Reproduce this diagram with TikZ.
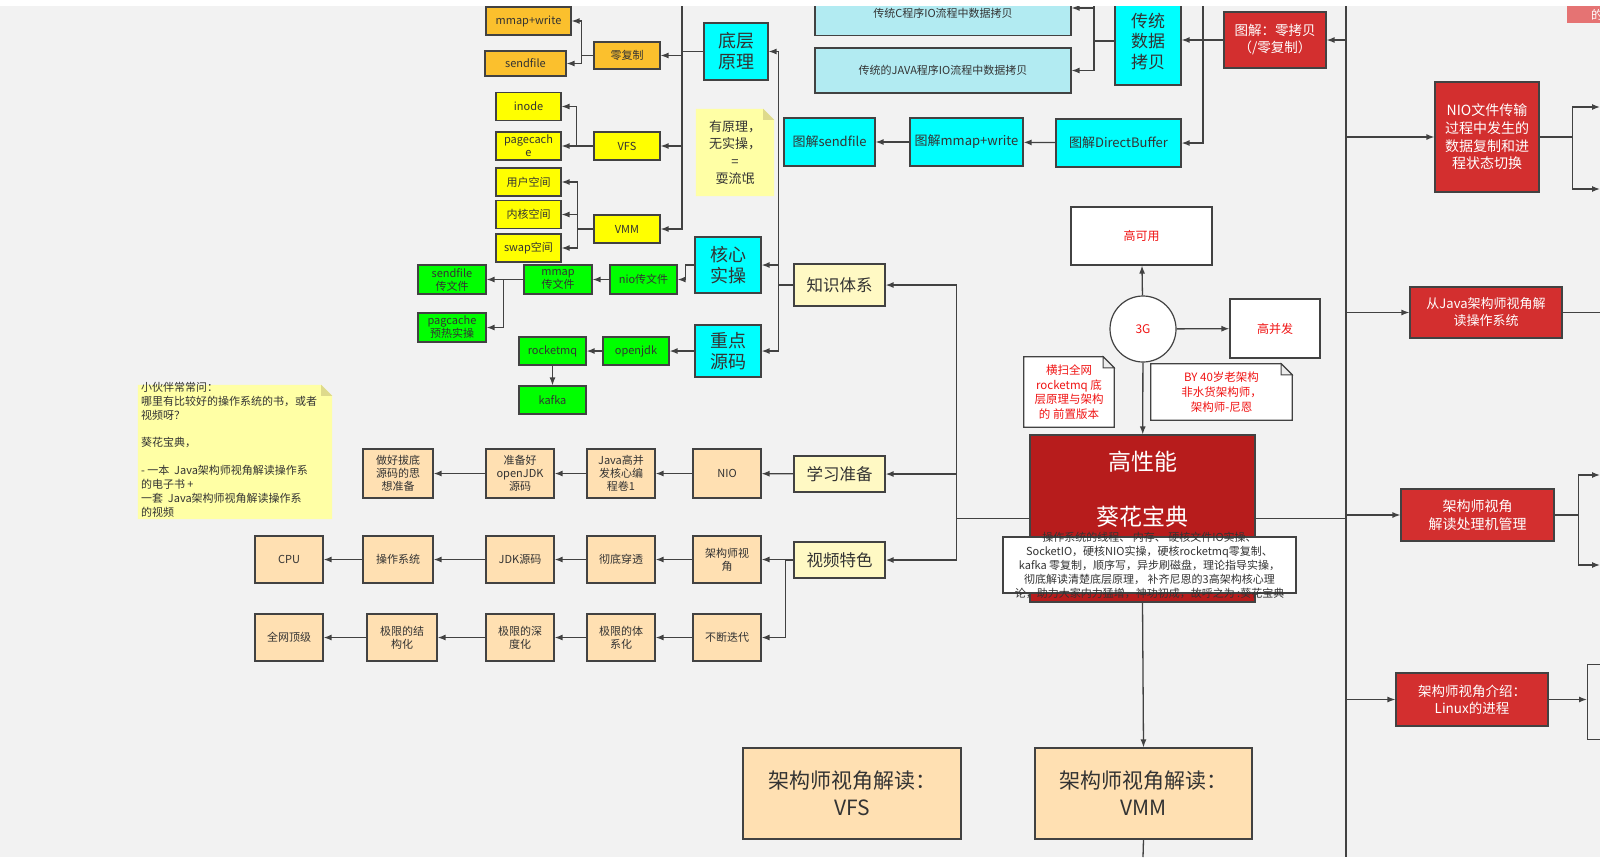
\documentclass[tikz,border=0pt]{standalone}
\usepackage{fontspec}
\setmainfont{Noto Sans CJK SC}
\usetikzlibrary{arrows.meta}
\pgfdeclarelayer{fondo}
\pgfdeclarelayer{notas}
\pgfsetlayers{fondo,notas,main}
\definecolor{fondoC}{RGB}{242,242,242}
\definecolor{lineaC}{RGB}{66,66,66}
\definecolor{textoC}{RGB}{51,51,51}
\definecolor{naranjaC}{RGB}{251,192,45}
\definecolor{amarilloC}{RGB}{255,255,0}
\definecolor{cianC}{RGB}{0,255,255}
\definecolor{cianclaroC}{RGB}{178,235,242}
\definecolor{verdeC}{RGB}{0,255,0}
\definecolor{melocotonC}{RGB}{255,224,178}
\definecolor{cremaC}{RGB}{255,249,196}
\definecolor{notaC}{RGB}{255,255,165}
\definecolor{pliegueC}{RGB}{222,218,140}
\definecolor{rojoC}{RGB}{211,47,47}
\definecolor{rojooscC}{RGB}{183,28,28}
\definecolor{rosaC}{RGB}{229,115,115}
\definecolor{rojotxtC}{RGB}{240,20,20}

\begin{document}
\begin{tikzpicture}[
        x=1pt, y=-1pt,
        every node/.style={inner sep=1pt, align=center, text=textoC},
        caja/.style={draw=lineaC, line width=1.2pt, font=\fontsize{11}{13}\selectfont},
        naranja/.style={caja, fill=naranjaC},
        amarillo/.style={caja, fill=amarilloC, minimum width=65pt, minimum height=28pt},
        cian/.style={caja, fill=cianC, font=\fontsize{18}{21}\selectfont},
        verde/.style={caja, fill=verdeC, minimum width=67pt, minimum height=29pt},
        melocoton/.style={caja, fill=melocotonC, minimum width=68pt, minimum height=47pt},
        crema/.style={caja, fill=cremaC, minimum width=91pt, minimum height=36pt, font=\fontsize{16.5}{19}\selectfont},
        rojo/.style={caja, fill=rojoC, text=white, font=\fontsize{14}{17.7}\selectfont},
        blanco/.style={caja, fill=white, text=rojotxtC, font=\fontsize{12}{14}\selectfont},
        grande/.style={caja, fill=melocotonC, minimum width=218pt, minimum height=91pt, font=\fontsize{21}{27}\selectfont},
        flecha/.style={draw=lineaC, line width=1.3pt, -{Latex[length=8pt,width=6pt]}},
        linea/.style={draw=lineaC, line width=1.3pt}
    ]
    \useasboundingbox (0,0) rectangle (1600,857);
    \clip (0,0) rectangle (1600,857);
    \begin{pgfonlayer}{fondo}
        \fill[fondoC] (0,0) rectangle (1600,857);
    \end{pgfonlayer}

    % Nodos:底层原理
    \node[naranja, minimum width=85pt, minimum height=28pt] (mw) at (528.5,21) {mmap+write};
    \node[naranja, minimum width=81pt, minimum height=25pt] (sf) at (525.5,63.5) {sendfile};
    \node[naranja, minimum width=66pt, minimum height=27pt] (lz) at (627,55.5) {零复制};
    \node[cian, minimum width=64pt, minimum height=57pt] (dc) at (736,51.5) {底层\\原理};
    \node[amarillo] (ino) at (528.5,106.5) {inode};
    \node[amarillo] (pgc) at (528.5,146) {pagecach\\e};
    \node[amarillo, minimum width=66pt] (vfs) at (627,146) {VFS};
    \node[amarillo] (yh) at (528.5,182) {用户空间};
    \node[amarillo] (nh) at (528.5,214.5) {内核空间};
    \node[amarillo] (sw) at (528.5,248) {swap空间};
    \node[amarillo, minimum width=66pt] (vmm) at (627,229) {VMM};
    \node[minimum width=78pt, minimum height=87pt, font=\fontsize{13}{17.5}\selectfont] (n1) at (735,152.5) {有原理，\\无实操，\\=\\耍流氓};

    % Nodos: 核心实操 / 重点源码
    \node[cian, minimum width=66pt, minimum height=56pt] (hx) at (728,265) {核心\\实操};
    \node[cian, minimum width=66pt, minimum height=52pt] (zd) at (728,351) {重点\\源码};
    \node[verde] (ncw) at (643.5,279.5) {nio传文件};
    \node[verde, minimum width=68pt] (mcw) at (558,279.5) {mmap\\传文件};
    \node[verde, minimum width=68pt] (scw) at (452,279.5) {sendfile\\传文件};
    \node[verde, minimum width=68pt] (pyr) at (452,327.5) {pagcache\\预热实操};
    \node[verde, minimum width=66pt, minimum height=28pt] (ojk) at (636,351) {openjdk};
    \node[verde, minimum height=28pt] (rmq) at (552.5,351) {rocketmq};
    \node[verde, minimum height=28pt] (kfk) at (552.5,400) {kafka};

    % Nodos: 知识体系 / 学习准备 / 视频特色
    \node[crema, minimum height=42pt] (zt) at (839.5,285) {知识体系};
    \node[crema] (xx) at (839.5,474) {学习准备};
    \node[crema] (sp) at (839.5,560) {视频特色};

    \node[melocoton, minimum height=49pt] (nio) at (727,473.5) {NIO};
    \node[melocoton, minimum height=49pt] (jg) at (621,473.5) {Java高并\\发核心编\\程卷1};
    \node[melocoton, minimum height=49pt] (zb) at (520,473.5) {准备好\\openJDK\\源码};
    \node[melocoton, minimum height=49pt, minimum width=70pt] (zh) at (398,473.5) {做好拔底\\源码的思\\想准备};

    \node[melocoton] (jsj) at (727,559.5) {架构师视\\角};
    \node[melocoton] (cd) at (621,559.5) {彻底穿透};
    \node[melocoton] (jdk) at (520,559.5) {JDK源码};
    \node[melocoton, minimum width=70pt] (cz) at (398,559.5) {操作系统};
    \node[melocoton] (cpu) at (289,559.5) {CPU};

    \node[melocoton] (bd) at (727,637.5) {不断迭代};
    \node[melocoton] (jt) at (621,637.5) {极限的体\\系化};
    \node[melocoton] (js) at (520,637.5) {极限的深\\度化};
    \node[melocoton, minimum width=70pt] (jj) at (402,637.5) {极限的结\\构化};
    \node[melocoton] (qw) at (289,637.5) {全网顶级};

    \node[minimum width=194pt, minimum height=134pt] (n2) at (235,452) {};
    \node[anchor=north west, inner sep=0pt, align=left, font=\fontsize{11}{13.9}\selectfont]
        (n2t) at ([xshift=3pt,yshift=3pt]n2.north west)
        {小伙伴常常问：\\哪里有比较好的操作系统的书，或者\\视频呀？\\[13.9pt]葵花宝典，\\[13.9pt]- 一本 \ Java架构师视角解读操作系\\的电子书 +\\一套 \ Java架构师视角解读操作系\\的视频};

    % Nodos: 数据拷贝
    \node[caja, fill=cianclaroC, minimum width=256pt, minimum height=45pt] (ctc) at (943,13) {传统C程序IO流程中数据拷贝};
    \node[caja, fill=cianclaroC, minimum width=256pt, minimum height=45pt] (cjv) at (943,70.5) {传统的JAVA程序IO流程中数据拷贝};
    \node[cian, minimum width=66pt, minimum height=88pt, font=\fontsize{17}{20.5}\selectfont] (ctsj) at (1148,41) {传统\\数据\\拷贝};
    \node[rojo, minimum width=102pt, minimum height=56pt, font=\fontsize{13.5}{17}\selectfont] (tjl) at (1275,40) {图解：零拷贝\\（/零复制）};
    \node[cian, minimum width=125pt, minimum height=48pt, font=\fontsize{13}{15}\selectfont] (tdb) at (1118.5,143) {图解DirectBuffer};
    \node[cian, minimum width=113pt, minimum height=48pt, font=\fontsize{13}{15}\selectfont] (tmw) at (966.5,142) {图解mmap+write};
    \node[cian, minimum width=91pt, minimum height=48pt, font=\fontsize{13}{15}\selectfont] (tsf) at (829.5,142) {图解sendfile};

    % Nodos: 3G / 高性能
    \node[blanco, minimum width=141pt, minimum height=58pt] (gky) at (1141.5,236) {高可用};
    \node[blanco, circle, minimum size=66pt] (g3) at (1143,329) {3G};
    \node[blanco, minimum width=90pt, minimum height=59pt] (gbf) at (1275,328.5) {高并发};
    \node[minimum width=90pt, minimum height=70pt, text=rojotxtC, font=\fontsize{11.5}{14.8}\selectfont] (n3) at (1069,392) {横扫全网\\rocketmq 底\\层原理与架构\\的 前置版本};
    \node[minimum width=141pt, minimum height=56pt, text=rojotxtC, font=\fontsize{11.5}{14.8}\selectfont] (n4) at (1221.5,392) {BY 40岁老架构\\非水货架构师，\\架构师-尼恩};

    \node[caja, fill=rojooscC, minimum width=225pt, minimum height=167pt] (gx) at (1142.5,518.5) {};
    \node[text=white, font=\fontsize{23}{27}\selectfont] (gxa) at (1142.5,462) {高性能};
    \node[text=white, font=\fontsize{23}{27}\selectfont] (gxb) at (1142.5,517) {葵花宝典};
    \node[caja, fill=white, minimum width=293pt, minimum height=56pt] (ds) at (1149.5,565) {};
    \node[font=\fontsize{11}{14}\selectfont] (dst) at (ds.center)
        {操作系统的线程、 内存、 硬核文件IO实操、\\SocketIO，硬核NIO实操，硬核rocketmq零复制、\\kafka 零复制，顺序写，异步刷磁盘，理论指导实操，\\彻底解读清楚底层原理， 补齐尼恩的3高架构核心理\\论，助力大家内力猛增，神功初成，故呼之为 :葵花宝典};

    \node[grande] (vfb) at (852,793.5) {架构师视角解读：\\VFS};
    \node[grande, minimum width=217pt] (vmb) at (1143.5,793.5) {架构师视角解读：\\VMM};

    % Nodos: derecha
    \node[rojo, minimum width=104pt, minimum height=110pt] (nft) at (1487,137) {NIO文件传输\\过程中发生的\\数据复制和进\\程状态切换};
    \node[rojo, minimum width=152pt, minimum height=51pt, font=\fontsize{13}{17}\selectfont] (cjs) at (1486,312.5) {从Java架构师视角解\\读操作系统};
    \node[rojo, minimum width=153pt, minimum height=52pt] (clj) at (1477.5,515) {架构师视角\\解读处理机管理};
    \node[rojo, minimum width=152pt, minimum height=53pt, font=\fontsize{13.5}{17}\selectfont] (lnx) at (1472,699.5) {架构师视角介绍：\\Linux的进程};
    \node[caja, fill=fondoC, minimum width=60pt, minimum height=75pt, anchor=west] (lxb) at (1587,702) {};
    \node[fill=rosaC, anchor=north west, inner sep=0pt, minimum height=17pt, text=white, font=\fontsize{12}{14}\selectfont] (rs) at (1567,6) {\hspace{24pt}的\hspace{40pt}};

    \coordinate (c1) at (1600,107);
    \coordinate (c2) at (1600,189);
    \coordinate (c3) at (1600,312.5);
    \coordinate (c4) at (1600,475);
    \coordinate (c5) at (1600,565);

    % Notas
    \begin{pgfonlayer}{notas}
        \fill[notaC] (n1.north west) -- ([xshift=-11pt]n1.north east) -- ([yshift=-11pt]n1.north east) -- (n1.south east) -- (n1.south west) -- cycle;
        \fill[pliegueC] ([xshift=-11pt]n1.north east) -- ([xshift=-11pt,yshift=-11pt]n1.north east) -- ([yshift=-11pt]n1.north east) -- cycle;
        \fill[notaC] (n2.north west) -- ([xshift=-11pt]n2.north east) -- ([yshift=-11pt]n2.north east) -- (n2.south east) -- (n2.south west) -- cycle;
        \fill[pliegueC] ([xshift=-11pt]n2.north east) -- ([xshift=-11pt,yshift=-11pt]n2.north east) -- ([yshift=-11pt]n2.north east) -- cycle;
        \filldraw[fill=white, draw=lineaC, line width=1.2pt] (n3.north west) -- ([xshift=-11pt]n3.north east) -- ([yshift=-11pt]n3.north east) -- (n3.south east) -- (n3.south west) -- cycle;
        \filldraw[fill=gray!15, draw=lineaC, line width=1pt] ([xshift=-11pt]n3.north east) -- ([xshift=-11pt,yshift=-11pt]n3.north east) -- ([yshift=-11pt]n3.north east) -- cycle;
        \filldraw[fill=white, draw=lineaC, line width=1.2pt] (n4.north west) -- ([xshift=-11pt]n4.north east) -- ([yshift=-11pt]n4.north east) -- (n4.south east) -- (n4.south west) -- cycle;
        \filldraw[fill=gray!15, draw=lineaC, line width=1pt] ([xshift=-11pt]n4.north east) -- ([xshift=-11pt,yshift=-11pt]n4.north east) -- ([yshift=-11pt]n4.north east) -- cycle;
    \end{pgfonlayer}

    % Aristas: 底层原理
    \coordinate (t0) at (682,0);
    \draw[linea] (dc.west) -- (dc.west -| t0);
    \draw[flecha] (t0) |- (lz.east);
    \draw[flecha] (t0) |- (vfs.east);
    \draw[flecha] (t0) |- (vmm.east);
    \draw[linea] (lz.west) -- ++(-12,0) coordinate (j1);
    \draw[flecha] (j1) |- (mw.east);
    \draw[flecha] (j1) |- (sf.east);
    \draw[linea] (vfs.west) -- ++(-17,0) coordinate (j2);
    \draw[flecha] (j2) |- (ino.east);
    \draw[flecha] (j2) |- (pgc.east);
    \draw[linea] (vmm.west) -- ++(-16,0) coordinate (j3);
    \draw[flecha] (j3) |- (yh.east);
    \draw[flecha] (j3) |- (nh.east);
    \draw[flecha] (j3) |- (sw.east);

    % Aristas: 知识体系
    \draw[linea] (zt.west) -- ++(-15,0) coordinate (j4);
    \draw[flecha] (j4) |- (dc.east);
    \draw[flecha] (j4) |- (hx.east);
    \draw[flecha] (j4) |- (zd.east);
    \draw[flecha] (hx.west) -- ++(-9,0) |- (ncw.east);
    \draw[flecha] (ncw) -- (mcw);
    \draw[linea] (mcw.west) -- ++(-20,0) coordinate (j5);
    \draw[flecha] (j5) |- (scw.east);
    \draw[flecha] (j5) |- (pyr.east);
    \draw[flecha] (zd) -- (ojk);
    \draw[flecha] (ojk) -- (rmq);
    \draw[flecha] (rmq) -- (kfk);

    % Aristas: 学习准备 / 视频特色
    \draw[flecha] (xx) -- (nio);
    \draw[flecha] (nio) -- (jg);
    \draw[flecha] (jg) -- (zb);
    \draw[flecha] (zb) -- (zh);
    \draw[linea] (sp.west) -- ++(-8,0) coordinate (j6);
    \draw[flecha] (j6) |- (jsj.east);
    \draw[flecha] (j6) |- (bd.east);
    \draw[flecha] (jsj) -- (cd);
    \draw[flecha] (cd) -- (jdk);
    \draw[flecha] (jdk) -- (cz);
    \draw[flecha] (cz) -- (cpu);
    \draw[flecha] (bd) -- (jt);
    \draw[flecha] (jt) -- (js);
    \draw[flecha] (js) -- (jj);
    \draw[flecha] (jj) -- (qw);

    % Aristas: 高性能
    \draw[linea] (gx.west) -- ++(-73,0) coordinate (j7);
    \draw[flecha] (j7) |- (zt.east);
    \draw[flecha] (j7) |- (xx.east);
    \draw[flecha] (j7) |- (sp.east);
    \draw[flecha] (g3) -- (gky);
    \draw[flecha] (g3) -- (gbf);
    \draw[flecha] (g3) -- (gx);
    \draw[flecha] (gx.south) -- (vmb.north);
    \coordinate (cb) at (1143,857);
    \draw[linea] (vmb.south) -- (cb);

    % Aristas: derecha
    \coordinate (t1) at (1346,0);
    \coordinate (t2) at (1346,857);
    \draw[linea] (t1) -- (t2);
    \draw[linea] (gx.east) -- (gx.east -| t1) coordinate (j8);
    \draw[flecha] (j8) |- (tjl.east);
    \draw[flecha] (j8) |- (nft.west);
    \draw[flecha] (j8) |- (cjs.west);
    \draw[flecha] (j8) |- (clj.west);
    \draw[flecha] (j8) |- (lnx.west);
    \draw[linea] (nft.east) -- ++(33,0) coordinate (j9);
    \draw[flecha] (j9) |- (c1);
    \draw[flecha] (j9) |- (c2);
    \draw[linea] (cjs.east) -- (c3);
    \draw[linea] (clj.east) -- ++(24,0) coordinate (j10);
    \draw[flecha] (j10) |- (c4);
    \draw[flecha] (j10) |- (c5);
    \draw[flecha] (lnx.east) -- (lnx.east -| lxb.west);

    % Aristas: 数据拷贝
    \draw[flecha] (tjl.west) -- (tjl.west -| ctsj.east);
    \coordinate (t3) at (1203,0);
    \draw[flecha] (t3) |- (tdb.east);
    \coordinate (t4) at (1094,0);
    \draw[linea] (ctsj.west) -- (ctsj.west -| t4) coordinate (j11);
    \draw[linea] (t4) -- (j11);
    \draw[flecha] (j11) |- ([yshift=5pt]ctc.east);
    \draw[flecha] (j11) |- (cjv.east);
    \draw[flecha] (tdb) -- (tmw);
    \draw[flecha] (tmw) -- (tsf);

    \fill[white] (0,0) rectangle (1600,6);
\end{tikzpicture}
\end{document}
